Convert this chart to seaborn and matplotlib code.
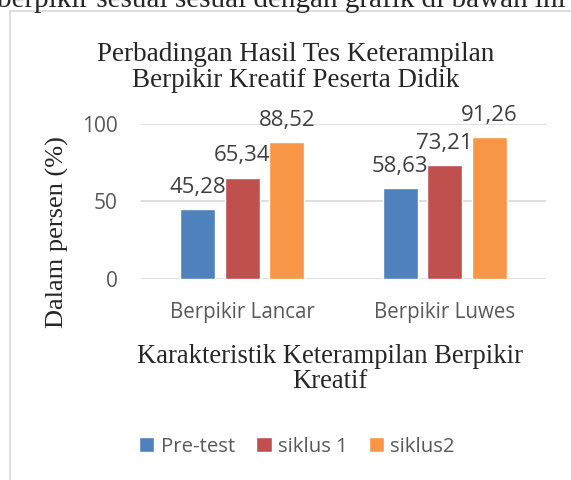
import matplotlib
matplotlib.use('Agg')
import matplotlib.pyplot as plt
import pandas as pd
import seaborn as sns
from matplotlib.patches import Rectangle

# chart data
categories = ['Berpikir Lancar', 'Berpikir Luwes']
series = ['Pre-test', 'siklus 1', 'siklus2']
pre_test = [45.28, 58.63]
siklus_1 = [65.34, 73.21]
siklus_2 = [88.52, 91.26]
colors = ['#4f81bd', '#c0504d', '#f79646']

rows = []
for name, vals in zip(series, [pre_test, siklus_1, siklus_2]):
    for cat, v in zip(categories, vals):
        rows.append({'Kategori': cat, 'Seri': name, 'Nilai': v})
df = pd.DataFrame(rows)

sns.set_style('white')
serif = ['Liberation Serif', 'DejaVu Serif']
sans = ['Open Sans', 'DejaVu Sans']

fig = plt.figure(figsize=(5.71, 4.8), dpi=100)
ax = fig.add_axes([0.247, 0.419, 0.709, 0.323])

sns.barplot(data=df, x='Kategori', y='Nilai', hue='Seri', palette=colors,
            width=0.66, gap=0.22, ax=ax, saturation=1, legend=True)

# value labels above each bar
for cont in ax.containers:
    labels = [f'{v:.2f}'.replace('.', ',') for v in cont.datavalues]
    ax.bar_label(cont, labels=labels, padding=8, fontsize=16,
                 color='#404040', family=sans, clip_on=False)

ax.set_ylim(0, 100)
ax.set_xlim(-0.5, 1.5)
ax.set_yticks([0, 50, 100])
ax.yaxis.grid(True, color='#d9d9d9', linewidth=1.2)
ax.set_axisbelow(True)
for s in ax.spines.values():
    s.set_visible(False)
ax.tick_params(axis='both', length=0, labelcolor='#595959')
ax.tick_params(axis='y', pad=17, labelsize=15)
ax.tick_params(axis='x', pad=17, labelsize=14.8)
for lab in ax.get_xticklabels() + ax.get_yticklabels():
    lab.set_family(sans)
ax.set_xlabel('')
ax.set_ylabel('')

# titles placed on the figure like the original chart box
fig.text(0.517, 0.86, 'Perbadingan Hasil Tes Keterampilan\nBerpikir Kreatif Peserta Didik',
         family=serif, fontsize=19.5, ha='center', va='center', linespacing=1.07)
fig.text(0.1, 0.517, 'Dalam persen (%)', family=serif, fontsize=19,
         rotation=90, ha='center', va='center')
fig.text(0.578, 0.232, 'Karakteristik Keterampilan Berpikir\nKreatif',
         family=serif, fontsize=19.2, ha='center', va='center', linespacing=1.0)

ax.legend_.remove()
handles, names = ax.get_legend_handles_labels()
fig.legend(handles, names, loc='center', bbox_to_anchor=(0.52, 0.069),
           ncol=3, frameon=False, handlelength=0.75, handleheight=0.75,
           handletextpad=0.3, columnspacing=1.05,
           prop={'family': sans, 'size': 14.7}, labelcolor='#595959')

# chart border and clipped text above it
fig.patches.append(Rectangle((0.018, -0.05), 1.1, 1.027, transform=fig.transFigure,
                             fill=False, edgecolor='#d9d9d9', linewidth=1.2))
fig.text(-0.006, 0.986, 'berpikir sesuai sesuai dengan grafik di bawah ini',
         family=serif, fontsize=21, va='baseline', ha='left')

fig.savefig('out.png', dpi=100)
